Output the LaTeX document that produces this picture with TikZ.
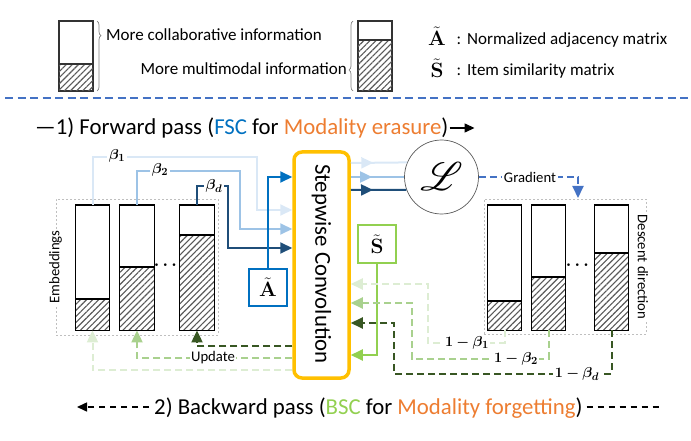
\documentclass[tikz,border=0pt]{standalone}
\usepackage[no-math]{fontspec}
\setmainfont{Carlito}
\usepackage{amsmath}
\usepackage{bm}
\usepackage{graphicx}
\usepackage{mathrsfs}
\usetikzlibrary{arrows.meta,patterns.meta,decorations.pathreplacing,decorations.markings,calc}
\definecolor{bluelight}{HTML}{DAE8F6}
\definecolor{bluemid}{HTML}{9DC3E6}
\definecolor{bluedark}{HTML}{1F4E79}
\definecolor{ablue}{HTML}{0070C0}
\definecolor{gradblue}{HTML}{4472C4}
\definecolor{convorange}{HTML}{FFC000}
\definecolor{txtorange}{HTML}{ED7D31}
\definecolor{sgreen}{HTML}{92D050}
\definecolor{glight}{HTML}{DDEDD3}
\definecolor{gmid}{HTML}{A9D18E}
\definecolor{gdark}{HTML}{385723}
\definecolor{dotgray}{HTML}{BFBFBF}
\definecolor{hatchgray}{HTML}{595959}
\definecolor{circgray}{HTML}{595959}
\newcommand\mkbar[3]{%
  \node[barbox] (#1) at (#2,205) {};
  \path[hatch] (#2-17,#3) rectangle (#2+17,330);
  \draw[line width=1.2pt] (#2-17,#3) -- (#2+17,#3);
  \draw[line width=1.2pt] (#1.south west) rectangle (#1.north east);}
\begin{document}
\begin{tikzpicture}[x=1pt,y=-1pt,
  barbox/.style={fill=white, minimum width=34pt, minimum height=125pt, inner sep=0pt, anchor=north},
  hatch/.style={pattern={Lines[angle=45,distance=4.3pt,line width=1.1pt]}, pattern color=hatchgray},
  lbl/.style={font=\fontsize{14.7}{17}\selectfont, fill=white, inner sep=1.5pt},
  mlbl/.style={font=\fontsize{15}{17}\selectfont, fill=white, inner sep=1.5pt},
  legfont/.style={font=\fontsize{17}{19}\selectfont, inner sep=0pt},
  bigfont/.style={font=\fontsize{22.8}{26}\selectfont, inner sep=0pt},
  dotbox/.style={draw=dotgray, line width=0.9pt, dash pattern=on 2pt off 2pt, inner sep=0pt},
  arr/.style={-{Triangle[length=12pt,width=11pt]}},
  midarr/.style={postaction={decorate}, decoration={markings, mark=at position #1 with {\arrow{Triangle[length=12pt,width=11pt]}}}},
  fline/.style={line width=2pt},
  gdash/.style={line width=2pt, dash pattern=on 7pt off 4pt},
  matbox/.style={line width=2pt, minimum width=38pt, minimum height=37pt, inner sep=0pt, font=\fontsize{22}{24}\selectfont, fill=white}
]
\useasboundingbox (0,0) rectangle (691,441);

% ---------- legend ----------
\node[draw=black!80, line width=1.1pt, fill=white, minimum width=34pt, minimum height=70pt, inner sep=0pt] (lg1) at (76,56) {};
\path[hatch] (59,64) rectangle (93,91);
\draw[black!80, line width=1.1pt] (59,64) -- (93,64);
\draw[black!80, line width=1.1pt] (lg1.south west) rectangle (lg1.north east);
\node[draw=black!80, line width=1.1pt, fill=white, minimum width=34pt, minimum height=70pt, inner sep=0pt] (lg2) at (375,56) {};
\path[hatch] (358,40) rectangle (392,91);
\draw[black!80, line width=1.1pt] (358,40) -- (392,40);
\draw[black!80, line width=1.1pt] (lg2.south west) rectangle (lg2.north east);
\draw[gray, line width=0.7pt, decorate, decoration={brace, amplitude=4pt, aspect=0.21}] (97,21) -- (97,91);
\draw[gray, line width=0.7pt, decorate, decoration={brace, amplitude=4pt, aspect=0.3}] (353,91) -- (353,21);
\node[legfont, anchor=base west] (t1) at (106,41) {More collaborative information};
\node[legfont, anchor=base east] (t2) at (347,75) {More multimodal information};
\node[font=\fontsize{20}{22}\selectfont, inner sep=0pt, anchor=base] (la) at (437,46) {$\tilde{\mathbf{A}}$};
\node[legfont, anchor=base] (lac) at (459,45) {:};
\node[legfont, anchor=base west] (lat) at (467,45) {Normalized adjacency matrix};
\node[font=\fontsize{20}{22}\selectfont, inner sep=0pt, anchor=base] (ls) at (437,78) {$\tilde{\mathbf{S}}$};
\node[legfont, anchor=base] (lsc) at (459,76) {:};
\node[legfont, anchor=base west] (lst) at (467,76) {Item similarity matrix};

% separator
\coordinate (sepL) at (5,98);
\coordinate (sepR) at (688,98);
\draw[gradblue, line width=1.5pt, dash pattern=on 8pt off 4.5pt] (sepL) -- (sepR);

% ---------- titles ----------
\node[bigfont, anchor=base west] (fwd) at (35,135) {—1) Forward pass (\textcolor{ablue}{FSC} for \textcolor{txtorange}{Modality erasure})};
\draw[line width=1.4pt, -{Triangle[length=10pt,width=9pt]}] ($(fwd.east |- 0,128)+(1,0)$) -- ++(25,0) coordinate (fwdend);
\node[bigfont, anchor=base west] (bwd) at (154,414) {2) Backward pass (\textcolor{sgreen}{BSC} for \textcolor{txtorange}{Modality forgetting})};
\draw[line width=1.5pt, dash pattern=on 6.5pt off 4.5pt, -{Triangle[length=10pt,width=9pt]}] ($(bwd.west |- 0,407)+(-5,0)$) -- (77,407) coordinate (bwdtip);
\draw[line width=1.5pt, dash pattern=on 6.5pt off 4.5pt] ($(bwd.east |- 0,407)+(4,0)$) -- (659,407) coordinate (bwdend);

% ---------- embedding boxes ----------
\node[dotbox, minimum width=162pt, minimum height=136pt] (LB) at (137,267) {};
\node[dotbox, minimum width=162pt, minimum height=135pt] (RB) at (565,266.5) {};
\mkbar{L1}{92.5}{299}
\mkbar{L2}{137}{267}
\mkbar{L3}{197}{235}
\mkbar{R1}{504.5}{301}
\mkbar{R2}{548.5}{277}
\mkbar{R3}{611.5}{253}
\node[font=\fontsize{18}{20}\selectfont] (ldots) at (167,265) {$\boldsymbol{\cdots}$};
\node[font=\fontsize{18}{20}\selectfont] (rdots) at (579,265) {$\boldsymbol{\cdots}$};
\node[lbl, rotate=90, inner sep=1pt] (emb) at (55.5,267) {Embeddings};
\node[lbl, rotate=-90, inner sep=1pt] (desc) at (643,267) {Descent direction};

% ---------- conv, loss, matrices ----------
\node[draw=convorange, line width=3.5pt, rounded corners=8pt, minimum width=55pt, minimum height=226pt, inner sep=0pt, fill=white] (conv) at (321.5,265) {};
\node[bigfont, rotate=-90] (convt) at (321.5,264) {Stepwise Convolution};
\node[circle, draw=circgray, line width=0.7pt, minimum size=74pt, inner sep=0pt] (loss) at (441.5,177) {\fontsize{24.88}{28}\selectfont\scalebox{1.6}{$\bm{\mathscr{L}}$}};
\node[matbox, draw=ablue] (At) at (268,287.5) {$\tilde{\mathbf{A}}$};
\node[matbox, draw=sgreen, minimum height=38pt] (St) at (377,244) {$\tilde{\mathbf{S}}$};

% ---------- forward connectors ----------
\draw[fline, bluelight, arr] (L1.north) |- (257,157) |- (conv.west |- 0,210);
\draw[fline, bluemid, arr] (L2.north) |- (240,171) |- (conv.west |- 0,229);
\draw[fline, bluedark, arr] (L3.north) |- (228,186) |- (conv.west |- 0,248);
\draw[fline, ablue, arr] (At.north) |- (conv.west |- 0,177);
\node[mlbl] (b1) at (117,156) {$\bm{\beta_1}$};
\node[mlbl] (b2) at (160,170) {$\bm{\beta_2}$};
\node[mlbl] (bd) at (214,186) {$\bm{\beta_d}$};

\draw[fline, bluelight, midarr=0.4] (conv.east |- 0,163) -- (loss.157.8);
\draw[fline, bluemid, midarr=0.4] (conv.east |- 0,177) -- (loss.west);
\draw[fline, bluedark, midarr=0.4] (conv.east |- 0,190) -- (loss.200.6);

\draw[gradblue, line width=2pt, dash pattern=on 7pt off 4pt, arr] (loss.east) -| (578,198);
\node[lbl] (grad) at (530,177) {Gradient};

\draw[fline, sgreen, arr, line width=1.8pt] (St.south) |- (conv.east |- 0,355);

% ---------- backward connectors ----------
\draw[gdash, glight, arr] (R1.south) |- (428,343) |- (conv.east |- 0,284);
\draw[gdash, gmid, arr] (R2.south) |- (412,359) |- (conv.east |- 0,303);
\draw[gdash, gdark, arr] (R3.south) |- (394,374) |- (conv.east |- 0,323);
\node[mlbl] (m1) at (467,343) {$\bm{1-\beta_1}$};
\node[mlbl] (m2) at (516,359) {$\bm{1-\beta_2}$};
\node[mlbl] (md) at (577,374) {$\bm{1-\beta_d}$};

\draw[gdash, gdark, arr] (conv.west |- 0,346) -| (L3.south);
\draw[gdash, gmid, arr] (conv.west |- 0,358) -| (L2.south);
\draw[gdash, glight, arr] (conv.west |- 0,370) -| (L1.south);
\node[lbl] (upd) at (213,358) {Update};
\end{tikzpicture}
\end{document}
